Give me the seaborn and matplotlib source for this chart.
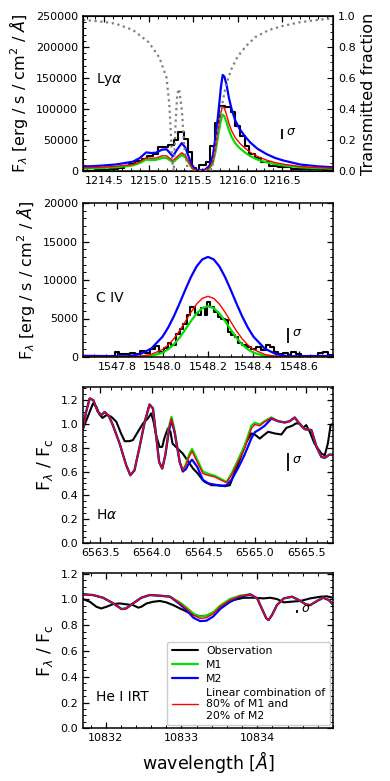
import matplotlib
matplotlib.use("Agg")
import matplotlib.pyplot as plt
from matplotlib.ticker import AutoMinorLocator, MultipleLocator
import seaborn as sns

# ---- Ly alpha ----
lya_obs_edges = [1214.26, 1214.40, 1214.55, 1214.65, 1214.72, 1214.78, 1214.85, 1214.92, 1214.98,
                 1215.05, 1215.10, 1215.16, 1215.22, 1215.28, 1215.33, 1215.39, 1215.44, 1215.49,
                 1215.53, 1215.56, 1215.64, 1215.69, 1215.74, 1215.79, 1215.86, 1215.92, 1215.97,
                 1216.02, 1216.08, 1216.13, 1216.19, 1216.26, 1216.35, 1216.45, 1216.60, 1216.80,
                 1216.95, 1217.07]
lya_obs_flux = [500, 1500, 3000, 5000, 8000, 11000, 16000, 19000, 24000,
                27000, 38000, 39000, 42000, 50000, 63000, 52000, 30000, 5000,
                1500, 10000, 14000, 40000, 78000, 105000, 103000, 95000, 73000,
                56000, 40000, 27000, 21000, 14000, 8500, 6000, 4000, 2500,
                1500, 1500]
lya_wave = [1214.26, 1214.45, 1214.63, 1214.82, 1214.90, 1214.97, 1215.03, 1215.08, 1215.15, 1215.20,
            1215.27, 1215.31, 1215.37, 1215.41, 1215.45, 1215.48, 1215.51, 1215.55, 1215.63, 1215.68,
            1215.72, 1215.75, 1215.78, 1215.81, 1215.83, 1215.85, 1215.875, 1215.90, 1215.93, 1215.97,
            1216.02, 1216.08, 1216.14, 1216.22, 1216.32, 1216.42, 1216.51, 1216.70, 1216.90, 1217.07]
lya_m2 = [7000, 8500, 10500, 15000, 21000, 30000, 29000, 29500, 34500, 35000,
          23500, 33000, 45000, 38000, 22000, 11000, 4000, 1000, 2000, 8000,
          25000, 55000, 92000, 135000, 155000, 152000, 138000, 118000, 100000, 82000,
          68000, 56000, 46000, 36000, 27500, 21000, 17000, 10500, 7500, 6000]
lya_mix = [4800, 6000, 7500, 10500, 15000, 21500, 20500, 21000, 24500, 24500,
           16500, 22000, 29500, 25000, 14500, 7000, 2500, 600, 1000, 5000,
           16000, 38000, 68000, 95000, 104000, 101000, 90000, 77000, 65000, 54000,
           45000, 37000, 30000, 23500, 17700, 13500, 11000, 7200, 5500, 4500]
lya_m1 = [3800, 4800, 6000, 9000, 13000, 18500, 17500, 18000, 21000, 21000,
          14000, 19000, 26000, 22000, 13000, 6000, 2000, 400, 800, 4000,
          13000, 32000, 58000, 82000, 91000, 88000, 78000, 66000, 55000, 45000,
          37000, 30000, 24000, 18500, 14000, 11000, 9000, 6000, 4500, 3800]
trans_wave = [1214.26, 1214.45, 1214.63, 1214.82, 1215.00, 1215.12, 1215.20, 1215.23, 1215.245, 1215.26,
              1215.28, 1215.30, 1215.32, 1215.34, 1215.37, 1215.40, 1215.44, 1215.70, 1215.74, 1215.78,
              1215.82, 1215.87, 1215.93, 1216.00, 1216.10, 1216.20, 1216.35, 1216.50, 1216.70, 1216.90,
              1217.07]
trans_frac = [0.975, 0.965, 0.95, 0.91, 0.83, 0.73, 0.60, 0.43, 0.27, 0.07,
              0.0, 0.30, 0.50, 0.53, 0.40, 0.15, 0.0, 0.0, 0.10, 0.27,
              0.42, 0.56, 0.66, 0.74, 0.81, 0.865, 0.91, 0.935, 0.96, 0.975,
              0.985]

# ---- C IV ----
civ_obs_edges = [1547.650, 1547.789, 1547.808, 1547.855, 1547.877, 1547.899, 1547.921, 1547.943, 1547.965,
                 1547.984, 1548.005, 1548.024, 1548.039, 1548.058, 1548.075, 1548.090, 1548.107, 1548.122,
                 1548.141, 1548.156, 1548.171, 1548.185, 1548.195, 1548.210, 1548.225, 1548.244, 1548.258,
                 1548.273, 1548.288, 1548.302, 1548.317, 1548.332, 1548.351, 1548.371, 1548.390, 1548.412,
                 1548.434, 1548.454, 1548.471, 1548.489, 1548.508, 1548.530, 1548.552, 1548.566, 1548.588,
                 1548.610, 1548.684, 1548.706, 1548.728, 1548.750]
civ_obs_flux = [100, 700, 400, 500, 350, 800, 550, 1100, 1450,
                700, 1150, 1850, 1500, 3050, 3700, 4350, 5450, 6550,
                5650, 5450, 6300, 5450, 7150, 6550, 5900, 5250, 5000,
                4750, 3300, 2850, 2600, 1800, 1550, 1350, 1050, 1300,
                900, 1550, 1250, 700, 400, 550, 250, 700, 350,
                100, 550, 600, 300, 300]
civ_wave = [1547.65, 1547.80, 1547.85, 1547.90, 1547.95, 1548.00, 1548.025, 1548.05, 1548.075, 1548.10,
            1548.125, 1548.15, 1548.175, 1548.20, 1548.225, 1548.25, 1548.275, 1548.30, 1548.325, 1548.35,
            1548.375, 1548.40, 1548.45, 1548.50, 1548.55, 1548.60, 1548.75]
civ_m2 = [150, 100, 100, 360, 1080, 2640, 3840, 5300, 6970, 8720,
          10390, 11770, 12680, 13000, 12680, 11770, 10390, 8720, 6970, 5300,
          3840, 2640, 1080, 360, 100, 100, 150]
civ_mix = [60, 20, 24, 92, 327, 976, 1565, 2377, 3406, 4592,
           5814, 6882, 7616, 7880, 7616, 6882, 5814, 4592, 3406, 2377,
           1565, 976, 327, 92, 24, 20, 60]
civ_m1 = [30, 5, 5, 25, 139, 560, 997, 1646, 2515, 3560,
          4670, 5660, 6350, 6600, 6350, 5660, 4670, 3560, 2515, 1646,
          997, 560, 139, 25, 5, 5, 30]

# ---- H alpha ----
ha_wave = [6563.33, 6563.36, 6563.395, 6563.43, 6563.475, 6563.51, 6563.54, 6563.58, 6563.62, 6563.686,
           6563.75, 6563.79, 6563.83, 6563.88, 6563.93, 6563.977, 6564.01, 6564.04, 6564.07, 6564.10,
           6564.13, 6564.165, 6564.19, 6564.22, 6564.27, 6564.30, 6564.33, 6564.36, 6564.39, 6564.44,
           6564.495, 6564.55, 6564.61, 6564.675, 6564.724, 6564.773, 6564.838, 6564.90, 6564.967, 6565.0,
           6565.048, 6565.097, 6565.161, 6565.226, 6565.29, 6565.34, 6565.388, 6565.436, 6565.485, 6565.55,
           6565.60, 6565.647, 6565.68, 6565.727, 6565.76]
ha_mix = [0.96, 1.10, 1.214, 1.20, 1.10, 1.075, 1.10, 1.07, 0.99, 0.835,
          0.653, 0.569, 0.61, 0.807, 1.018, 1.163, 1.13, 0.906, 0.68, 0.625,
          0.737, 0.962, 1.046, 0.934, 0.68, 0.611, 0.653, 0.72, 0.77, 0.68,
          0.583, 0.567, 0.555, 0.527, 0.507, 0.569, 0.681, 0.793, 0.962, 0.995,
          0.984, 1.018, 1.051, 1.023, 1.012, 1.023, 1.054, 1.0, 0.956, 0.948,
          0.807, 0.723, 0.715, 0.743, 0.74]
ha_m1 = [0.96, 1.10, 1.214, 1.20, 1.10, 1.075, 1.10, 1.07, 0.99, 0.835,
         0.653, 0.569, 0.61, 0.807, 1.018, 1.163, 1.13, 0.906, 0.68, 0.625,
         0.737, 0.975, 1.06, 0.945, 0.68, 0.611, 0.66, 0.74, 0.79, 0.70,
         0.60, 0.58, 0.565, 0.535, 0.512, 0.58, 0.70, 0.815, 0.985, 1.01,
         0.995, 1.025, 1.055, 1.023, 1.012, 1.023, 1.054, 1.0, 0.956, 0.948,
         0.807, 0.723, 0.715, 0.743, 0.74]
ha_m2 = [0.96, 1.10, 1.214, 1.20, 1.10, 1.075, 1.10, 1.07, 0.99, 0.835,
         0.653, 0.569, 0.61, 0.807, 1.018, 1.163, 1.13, 0.906, 0.68, 0.625,
         0.737, 0.94, 1.03, 0.93, 0.68, 0.60, 0.62, 0.67, 0.70, 0.64,
         0.53, 0.50, 0.49, 0.48, 0.485, 0.53, 0.63, 0.74, 0.88, 0.93,
         0.955, 0.985, 1.045, 1.023, 1.012, 1.023, 1.054, 1.0, 0.956, 0.948,
         0.807, 0.723, 0.715, 0.743, 0.74]
ha_obs_wave = [6563.33, 6563.37, 6563.427, 6563.46, 6563.49, 6563.52, 6563.557, 6563.605, 6563.654, 6563.70,
               6563.735, 6563.78, 6563.815, 6563.864, 6563.913, 6563.96, 6563.993, 6564.016, 6564.04, 6564.074,
               6564.10, 6564.12, 6564.155, 6564.18, 6564.20, 6564.25, 6564.30, 6564.35, 6564.40, 6564.446,
               6564.495, 6564.514, 6564.58, 6564.645, 6564.71, 6564.757, 6564.80, 6564.87, 6564.92, 6564.967,
               6565.0, 6565.048, 6565.08, 6565.13, 6565.194, 6565.258, 6565.307, 6565.362, 6565.40, 6565.436,
               6565.47, 6565.50, 6565.534, 6565.58, 6565.647, 6565.68, 6565.71, 6565.737, 6565.76]
ha_obs = [0.96, 1.046, 1.172, 1.144, 1.08, 1.05, 1.074, 1.06, 1.018, 0.92,
          0.855, 0.855, 0.864, 0.934, 1.004, 1.046, 1.088, 1.018, 0.906, 0.807,
          0.807, 0.877, 0.962, 0.934, 0.835, 0.793, 0.751, 0.687, 0.625, 0.583,
          0.527, 0.513, 0.485, 0.485, 0.477, 0.485, 0.583, 0.737, 0.85, 0.92,
          0.911, 0.877, 0.90, 0.934, 0.92, 0.911, 0.967, 0.984, 1.004, 1.004,
          0.967, 0.99, 0.934, 0.835, 0.751, 0.737, 0.835, 0.99, 1.0]

# ---- He I IRT ----
he_wave = [10831.70, 10831.83, 10831.965, 10832.10, 10832.21, 10832.27, 10832.36, 10832.47, 10832.58, 10832.715,
           10832.85, 10832.98, 10833.07, 10833.157, 10833.245, 10833.33, 10833.42, 10833.51, 10833.64, 10833.775,
           10833.91, 10834.0, 10834.06, 10834.12, 10834.15, 10834.195, 10834.26, 10834.35, 10834.46, 10834.55,
           10834.64, 10834.70, 10834.79, 10834.87, 10834.945, 10835.0]
he_mix = [1.039, 1.034, 1.013, 0.969, 0.925, 0.93, 0.969, 1.013, 1.034, 1.029,
          1.021, 0.969, 0.925, 0.879, 0.853, 0.858, 0.888, 0.943, 0.995, 1.026,
          1.039, 1.008, 0.93, 0.853, 0.84, 0.879, 0.956, 1.008, 1.021, 0.995,
          0.962, 0.956, 0.988, 1.013, 0.995, 0.96]
he_m1 = [1.039, 1.034, 1.013, 0.969, 0.925, 0.93, 0.969, 1.013, 1.034, 1.029,
         1.021, 0.976, 0.935, 0.89, 0.868, 0.872, 0.90, 0.952, 1.003, 1.03,
         1.039, 1.008, 0.93, 0.853, 0.84, 0.879, 0.956, 1.008, 1.021, 0.995,
         0.962, 0.956, 0.988, 1.013, 0.995, 0.96]
he_m2 = [1.039, 1.034, 1.013, 0.969, 0.925, 0.93, 0.969, 1.013, 1.034, 1.029,
         1.021, 0.962, 0.915, 0.858, 0.832, 0.835, 0.868, 0.925, 0.982, 1.021,
         1.039, 1.008, 0.93, 0.853, 0.84, 0.879, 0.956, 1.008, 1.021, 0.995,
         0.962, 0.956, 0.988, 1.013, 0.995, 0.96]
he_obs_wave = [10831.70, 10831.79, 10831.877, 10831.94, 10832.01, 10832.10, 10832.185, 10832.27, 10832.36, 10832.43,
               10832.47, 10832.54, 10832.627, 10832.715, 10832.80, 10832.89, 10832.98, 10833.07, 10833.157, 10833.245,
               10833.33, 10833.42, 10833.51, 10833.60, 10833.687, 10833.82, 10833.95, 10834.085, 10834.17, 10834.26,
               10834.35, 10834.44, 10834.57, 10834.70, 10834.835, 10834.92, 10835.0]
he_obs = [1.003, 0.982, 0.943, 0.93, 0.943, 0.964, 0.969, 0.962, 0.956, 0.936,
          0.943, 0.969, 0.982, 0.988, 0.977, 0.956, 0.93, 0.905, 0.879, 0.871,
          0.873, 0.90, 0.936, 0.969, 0.995, 1.013, 1.013, 1.008, 1.013, 1.003,
          0.977, 0.982, 0.988, 1.008, 1.021, 1.024, 1.013]

# sigma markers: x, centre, half length
sigma_x = [1216.50, 1548.553, 6565.323, 10834.52]
sigma_y = [59500, 2800, 0.68, 0.907]
sigma_err = [8000, 975, 0.073, 0.013]

line_names = ["Ly$\\alpha$", "C IV", "H$\\alpha$", "He I IRT"]
xticks = [[1214.5, 1215.0, 1215.5, 1216.0, 1216.5],
          [1547.8, 1548.0, 1548.2, 1548.4, 1548.6],
          [6563.5, 6564.0, 6564.5, 6565.0, 6565.5],
          [10832, 10833, 10834]]
xlims = [(1214.26, 1217.07), (1547.65, 1548.75), (6563.33, 6565.76), (10831.70, 10835.0)]
ylims = [(0, 250000), (0, 20000), (0, 1.31), (0, 1.205)]

sns.set_style("ticks")
plt.rcParams['font.family'] = ['DejaVu Sans']
plt.rcParams['mathtext.fontset'] = 'dejavusans'
for key in ['text.color', 'axes.labelcolor', 'xtick.color', 'ytick.color', 'axes.edgecolor']:
    plt.rcParams[key] = 'black'

W, H = 390, 781
fig = plt.figure(figsize=(W / 100, H / 100), dpi=100)
boxes = [(16, 171), (203, 357), (387, 543), (573, 728.3)]
axes = []
for top, bot in boxes:
    ax = fig.add_axes([83 / W, (H - bot) / H, 250 / W, (bot - top) / H])
    axes.append(ax)

GREEN, BLUE, RED = '#00e000', '#0000ff', '#ff0000'


def style_axis(ax, right=True):
    ax.xaxis.set_minor_locator(AutoMinorLocator())
    ax.yaxis.set_minor_locator(AutoMinorLocator())
    ax.tick_params(which='both', direction='in', top=True, right=right, labelsize=8)
    ax.tick_params(which='major', length=4, width=0.9)
    ax.tick_params(which='minor', length=2, width=0.7)
    ax.ticklabel_format(axis='x', useOffset=False)
    for s in ax.spines.values():
        s.set_linewidth(1.1)


def draw_models(ax, wave, m1, m2, mix, legend=False):
    sns.lineplot(x=wave, y=m1, ax=ax, color=GREEN, lw=1.6, label="M1" if legend else None)
    sns.lineplot(x=wave, y=m2, ax=ax, color=BLUE, lw=1.6, label="M2" if legend else None)
    sns.lineplot(x=wave, y=mix, ax=ax, color=RED, lw=1.0,
                 label="Linear combination of\n80% of M1 and\n20% of M2" if legend else None)


# panel 1: Ly alpha
ax = axes[0]
sns.lineplot(x=lya_obs_edges, y=lya_obs_flux, ax=ax, color='k', lw=1.5, drawstyle='steps-post')
draw_models(ax, lya_wave, lya_m1, lya_m2, lya_mix)
axt = ax.twinx()
sns.lineplot(x=trans_wave, y=trans_frac, ax=axt, color='gray', lw=1.6, ls=(0, (1, 1.6)))
axt.set_ylim(0, 1.0)
axt.set_ylabel("Transmitted fraction", fontsize=11.5)
axt.yaxis.set_minor_locator(AutoMinorLocator())
axt.tick_params(which='both', direction='in', labelsize=8)
axt.tick_params(which='major', length=4)
axt.tick_params(which='minor', length=2)
style_axis(ax, right=False)

# panel 2: C IV
ax = axes[1]
sns.lineplot(x=civ_obs_edges, y=civ_obs_flux, ax=ax, color='k', lw=1.5, drawstyle='steps-post')
draw_models(ax, civ_wave, civ_m1, civ_m2, civ_mix)
style_axis(ax)

# panel 3: H alpha
ax = axes[2]
sns.lineplot(x=ha_obs_wave, y=ha_obs, ax=ax, color='k', lw=1.5)
draw_models(ax, ha_wave, ha_m1, ha_m2, ha_mix)
ax.yaxis.set_major_locator(MultipleLocator(0.2))
style_axis(ax)

# panel 4: He I
ax = axes[3]
sns.lineplot(x=he_obs_wave, y=he_obs, ax=ax, color='k', lw=1.5, label="Observation")
draw_models(ax, he_wave, he_m1, he_m2, he_mix, legend=True)
ax.yaxis.set_major_locator(MultipleLocator(0.2))
style_axis(ax)
ax.legend(loc='lower right', fontsize=7.8, handlelength=2.4, labelspacing=0.35,
          borderpad=0.4, borderaxespad=0.3, framealpha=1)
ax.set_xlabel("wavelength [$\\AA$]", fontsize=12.5)

for i, ax in enumerate(axes):
    ax.set_xticks(xticks[i])
    ax.set_xlim(*xlims[i])
    ax.set_ylim(*ylims[i])
    ax.errorbar(sigma_x[i], sigma_y[i], yerr=sigma_err[i], fmt='none', ecolor='k', elinewidth=1.3, capsize=0)
    ax.annotate("$\\sigma$", (sigma_x[i], sigma_y[i]), xytext=(3, 2), textcoords='offset points',
                fontsize=9, va='center', zorder=5)
    if i < 2:
        ax.set_ylabel("F$_\\lambda$ [erg / s / cm$^2$ / $\\AA$]", fontsize=11.5)
    else:
        ax.set_ylabel("F$_\\lambda$ / F$_{\\rm c}$", fontsize=12.5)
    ty = [0.59, 0.38, 0.18, 0.2][i]
    ax.text(0.05, ty, line_names[i], transform=ax.transAxes, fontsize=10, va='center')

fig.savefig("out.png", dpi=100)
